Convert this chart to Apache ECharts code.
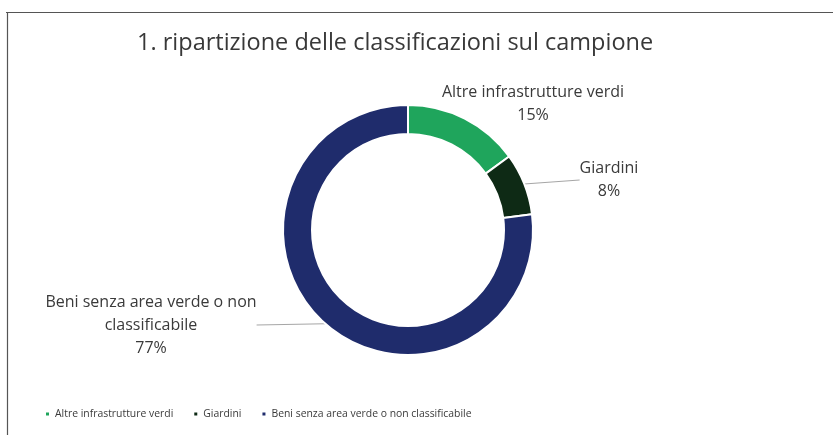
<!DOCTYPE html>
<html>
<head>
<meta charset="utf-8">
<script src="https://cdn.jsdelivr.net/npm/echarts@6/dist/echarts.min.js"></script>
<style>
  html, body { margin: 0; padding: 0; background: #fff; }
  #chart { width: 833px; height: 435px; }
</style>
</head>
<body>
<div id="chart"></div>
<script>
// Sample breakdown by classification (share of the total, %)
const categories = ['Altre infrastrutture verdi', 'Giardini', 'Beni senza area verde o non classificabile'];
const shares = [15, 8, 77];
const colors = ['#1fa55c', '#0e2a15', '#1f2c6c'];
const labelText = ['Altre infrastrutture verdi', 'Giardini', 'Beni senza area verde o non\nclassificabile'];

// Label anchor points for each slice (label placement only)
const labelSpots = [
  { x: 533, y: 104 },
  { x: 609, y: 180 },
  { x: 151, y: 325 }
];

const chart = echarts.init(document.getElementById('chart'), null, { renderer: 'canvas' });

chart.setOption({
  backgroundColor: '#ffffff',
  animation: false,
  title: {
    text: '1. ripartizione delle classificazioni sul campione',
    left: 132,
    top: 26,
    textStyle: { fontFamily: 'Open Sans', fontSize: 23.5, fontWeight: 500, color: '#383838' }
  },
  legend: {
    bottom: 11,
    left: 39,
    itemWidth: 5,
    itemHeight: 5,
    itemGap: 19,
    icon: 'rect',
    textStyle: { fontFamily: 'Open Sans', fontSize: 10.4, color: '#3a3a3a' },
    data: categories
  },
  graphic: [
    { type: 'line', shape: { x1: 6, y1: 12.5, x2: 833, y2: 12.5 }, style: { stroke: '#555', lineWidth: 1.2 } },
    { type: 'line', shape: { x1: 7.5, y1: 12, x2: 7.5, y2: 435 }, style: { stroke: '#555', lineWidth: 1.2 } }
  ],
  series: [{
    type: 'pie',
    center: [408, 230],
    radius: [96, 125],
    startAngle: 90,
    clockwise: true,
    itemStyle: { borderColor: '#ffffff', borderWidth: 2 },
    data: categories.map((name, i) => ({
      name,
      value: shares[i],
      itemStyle: { color: colors[i] },
      labelLine: { show: i !== 0 }
    })),
    label: {
      show: true,
      position: 'outside',
      fontFamily: 'Open Sans',
      fontSize: 16,
      lineHeight: 23,
      color: '#3a3a3a',
      align: 'center',
      formatter: p => labelText[p.dataIndex] + '\n' + p.value + '%'
    },
    labelLine: {
      show: true,
      length: 20,
      length2: 0,
      lineStyle: { color: '#a6a6a6', width: 1 }
    },
    labelLayout: p => {
      const s = labelSpots[p.dataIndex];
      return { x: s.x, y: s.y, align: 'center', verticalAlign: 'middle' };
    }
  }]
});
</script>
</body>
</html>
